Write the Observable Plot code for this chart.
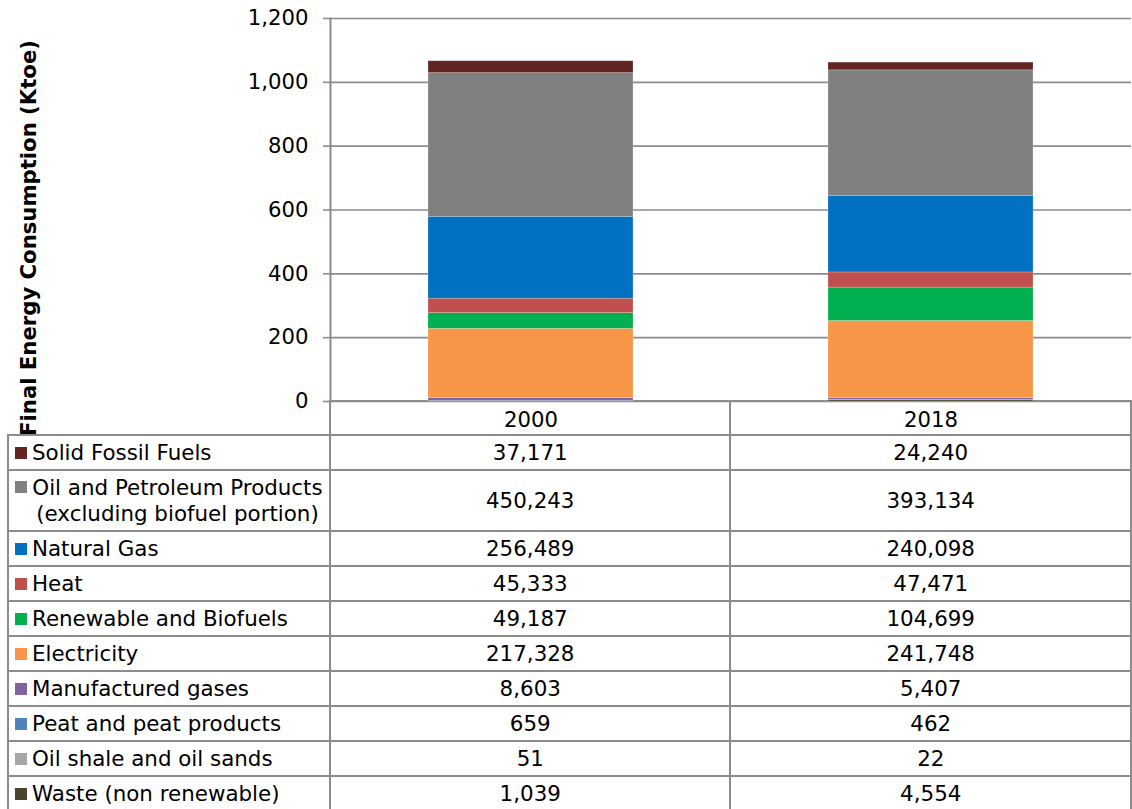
<!DOCTYPE html>
<html>
<head>
<meta charset="utf-8">
<script src="https://cdn.jsdelivr.net/npm/d3@7"></script>
<script src="https://cdn.jsdelivr.net/npm/@observablehq/plot@0.6"></script>
<style>
  html, body { margin: 0; padding: 0; background: #fff; }
  #wrap { position: relative; width: 1132px; height: 809px; overflow: hidden; font-family: "DejaVu Sans", Verdana, sans-serif; }
  #chart { position: absolute; left: 0; top: 0; z-index: 2; }
  #tbl { position: absolute; left: 7px; top: 400px; z-index: 1; border-collapse: collapse; table-layout: fixed; font-size: 21.4px; color: #000; }
  #tbl td { border: 2px solid #8c8c8c; padding: 0; vertical-align: middle; }
  #tbl td.val { text-align: center; }
  #tbl td.lab { position: relative; padding-left: 23px; white-space: nowrap; }
  #tbl td.lab.wrapcell { text-align: center; line-height: 26px; padding-right: 6px; }
  .sw { position: absolute; left: 6px; width: 12px; height: 12px; top: 50%; margin-top: -6px; }
  .wrapcell .sw { top: 10px; margin-top: 0; }
  #tbl td.blank { border-top: none; border-left: none; }
</style>
</head>
<body>
<div id="wrap">
  <div id="chart"></div>
  <table id="tbl"></table>
</div>
<script>
const years = ["2000", "2018"];
const series = [
  "Solid Fossil Fuels",
  "Oil and Petroleum Products (excluding biofuel portion)",
  "Natural Gas",
  "Heat",
  "Renewable and Biofuels",
  "Electricity",
  "Manufactured gases",
  "Peat and peat products",
  "Oil shale and oil sands",
  "Waste (non renewable)"
];
const values2000 = [37171, 450243, 256489, 45333, 49187, 217328, 8603, 659, 51, 1039];
const values2018 = [24240, 393134, 240098, 47471, 104699, 241748, 5407, 462, 22, 4554];
const colors = ["#632523", "#808080", "#0070C0", "#C0504D", "#00B050", "#F79646", "#8064A2", "#4F81BD", "#A6A6A6", "#4A452A"];
const yTicks = [0, 200000, 400000, 600000, 800000, 1000000, 1200000];
const yLabel = "Final Energy Consumption (Ktoe)";

// stacked bottom-first (reverse of table order)
const data = [];
for (let i = series.length - 1; i >= 0; i--) {
  data.push({year: years[0], series: series[i], value: values2000[i]});
  data.push({year: years[1], series: series[i], value: values2018[i]});
}

const fmt = d3.format(",");
const chart = Plot.plot({
  width: 1132,
  height: 435,
  marginLeft: 330,
  marginRight: 1,
  marginTop: 18,
  marginBottom: 34,
  style: {fontFamily: "'DejaVu Sans', Verdana, sans-serif", fontSize: "21.2px", background: "transparent", color: "#000", overflow: "visible"},
  x: {domain: years, paddingInner: 0.488, paddingOuter: 0.244, label: null},
  y: {domain: [0, 1200000], label: null},
  color: {domain: series, range: colors},
  marks: [
    Plot.gridY(yTicks, {stroke: "#8c8c8c", strokeOpacity: 1, strokeWidth: 1.6}),
    Plot.barY(data, {x: "year", y: "value", fill: "series", stroke: "#ffffff", strokeOpacity: 0.35, strokeWidth: 0.6}),
    Plot.axisY({ticks: yTicks, tickFormat: d => fmt(d / 1000), tickSize: 7, tickPadding: 15, stroke: "#8c8c8c", strokeWidth: 1.6, label: null}),
    Plot.frame({anchor: "left", stroke: "#8c8c8c", strokeWidth: 2}),
    Plot.axisX({tickSize: 0, tickPadding: 10, label: null}),
    Plot.text([yLabel], {text: d => d, frameAnchor: "left", rotate: -90, dx: -301, dy: 28, fontWeight: "bold", textAnchor: "middle", lineAnchor: "middle"})
  ]
});
document.getElementById("chart").appendChild(chart);

// data table
const tbl = document.getElementById("tbl");
const colgroup = document.createElement("colgroup");
[322, 401, 401].forEach(w => { const c = document.createElement("col"); c.style.width = w + "px"; colgroup.appendChild(c); });
tbl.appendChild(colgroup);
const head = document.createElement("tr");
head.style.height = "34px";
head.innerHTML = '<td class="blank"></td><td></td><td></td>';
tbl.appendChild(head);
series.forEach((s, i) => {
  const tr = document.createElement("tr");
  const wrap = i === 1;
  tr.style.height = wrap ? "61px" : "35px";
  const lab = document.createElement("td");
  lab.className = "lab" + (wrap ? " wrapcell" : "");
  const sw = document.createElement("span");
  sw.className = "sw";
  sw.style.background = colors[i];
  lab.appendChild(sw);
  if (wrap) {
    lab.appendChild(document.createTextNode("Oil and Petroleum Products"));
    lab.appendChild(document.createElement("br"));
    lab.appendChild(document.createTextNode("(excluding biofuel portion)"));
  } else {
    lab.appendChild(document.createTextNode(s));
  }
  tr.appendChild(lab);
  [values2000[i], values2018[i]].forEach(v => {
    const td = document.createElement("td");
    td.className = "val";
    td.textContent = fmt(v);
    tr.appendChild(td);
  });
  tbl.appendChild(tr);
});
</script>
</body>
</html>
